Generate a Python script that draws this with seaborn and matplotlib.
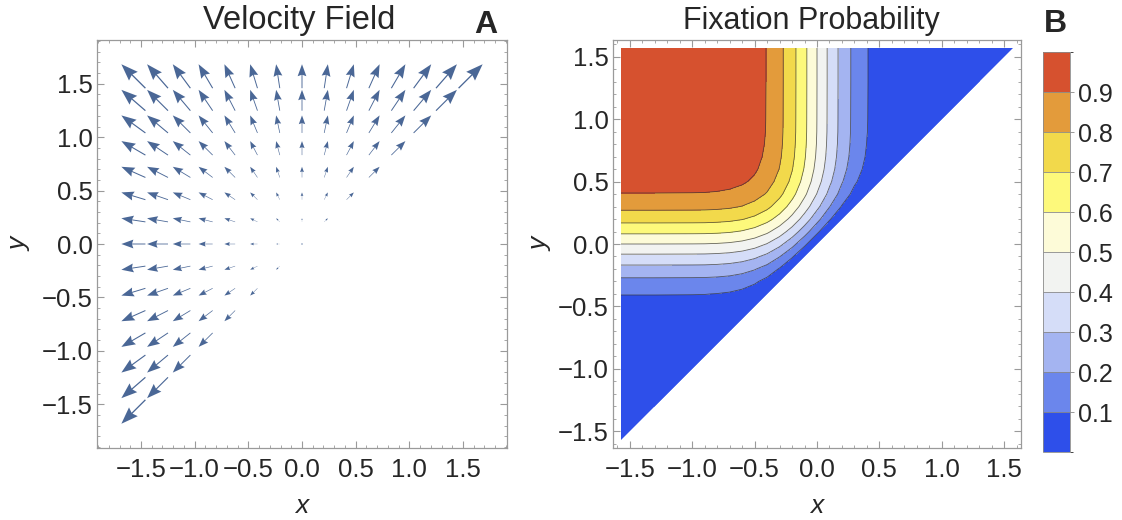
import numpy as np
import matplotlib
matplotlib.use('Agg')
import matplotlib.pyplot as plt
from matplotlib.patches import Polygon
from matplotlib.colors import ListedColormap, BoundaryNorm
from matplotlib.cm import ScalarMappable
from matplotlib.ticker import MultipleLocator
import seaborn as sns

# ---- panel A: velocity field --------------------------------------------
# arrow grid positions (15 points from -pi/2 to pi/2), only points with y >= x carry arrows
grid_pts = [-1.571, -1.346, -1.122, -0.898, -0.673, -0.449, -0.224, 0.0,
            0.224, 0.449, 0.673, 0.898, 1.122, 1.346, 1.571]
# drawn arrow components (data units):
# horizontal part depends on the column, vertical part on the row
arrow_dx = [-0.224, -0.195, -0.164, -0.131, -0.100, -0.068, -0.034, 0.0,
            0.034, 0.068, 0.100, 0.131, 0.164, 0.195, 0.224]
arrow_dy = [-0.224, -0.195, -0.164, -0.131, -0.100, -0.068, -0.034, 0.0,
            0.034, 0.068, 0.100, 0.131, 0.164, 0.195, 0.224]

# ---- panel B: fixation probability --------------------------------------
# probability read along the left edge (x = -pi/2); the top edge reads as the mirror image
prob_pos = [-1.571, -1.3, -1.0, -0.9, -0.8, -0.7, -0.6, -0.5, -0.4, -0.3, -0.2, -0.1, 0.0,
            0.1, 0.2, 0.3, 0.4, 0.5, 0.6, 0.7, 0.8, 0.9, 1.0, 1.3, 1.571]
prob_edge = [0.0, 0.0, 0.001, 0.002, 0.006, 0.014, 0.030, 0.058, 0.104, 0.173, 0.265, 0.377, 0.5,
             0.623, 0.735, 0.827, 0.896, 0.942, 0.970, 0.986, 0.994, 0.998, 0.999, 1.0, 1.0]
levels = [0.0, 0.1, 0.2, 0.3, 0.4, 0.5, 0.6, 0.7, 0.8, 0.9, 1.0]
level_colors = ['#2e4fea', '#6b86ec', '#a4b4f1', '#d5ddf8', '#f2f3f1',
                '#fdfbd8', '#fdf97b', '#f2d94b', '#e39b3b', '#d6512f']

arrow_color = '#4a6796'
frame_color = '#9a9a9a'

sns.set_style('ticks')
plt.rcParams['font.family'] = ['Liberation Sans', 'DejaVu Sans']

fig = plt.figure(figsize=(11.22, 5.2), dpi=100)
ax1 = fig.add_axes([97 / 1122, 1 - 448 / 520, 410 / 1122, 408 / 520])
ax2 = fig.add_axes([613 / 1122, 1 - 448 / 520, 408 / 1122, 408 / 520])
cax = fig.add_axes([1043 / 1122, 1 - 452 / 520, 27 / 1122, 400 / 520])

# velocity field (heads scale with arrow length, as in the original)
X, Y = np.meshgrid(grid_pts, grid_pts)
U, V = np.meshgrid(arrow_dx, arrow_dy)
keep = Y >= X - 1e-9
ax1.quiver(X[keep], Y[keep], U[keep], V[keep], angles='xy', scale_units='xy', scale=1,
           pivot='mid', color=arrow_color, width=0.0035, headwidth=9.5, headlength=13,
           headaxislength=11.5, minshaft=2.0)
ax1.set_xlim(-1.91, 1.91)
ax1.set_ylim(-1.91, 1.91)

# fixation probability contours (value = edge profile at y minus edge profile at x)
pe = np.array(prob_edge)
Z = pe[:, None] - pe[None, :]
cmap = ListedColormap(level_colors)
cmap.set_under(level_colors[0])
norm = BoundaryNorm(levels, cmap.N)
tri = Polygon([(-1.571, -1.571), (-1.571, 1.571), (1.571, 1.571)], closed=True,
              transform=ax2.transData, facecolor='none', edgecolor='none')
ax2.add_patch(tri)
cf = ax2.contourf(prob_pos, prob_pos, Z, levels=levels, cmap=cmap, norm=norm, extend='min')
cf.set_clip_path(tri)
cl = ax2.contour(prob_pos, prob_pos, Z, levels=levels[1:-1], colors='#333333',
                 linewidths=0.6, alpha=0.75)
cl.set_clip_path(tri)
ax2.set_xlim(-1.635, 1.635)
ax2.set_ylim(-1.635, 1.635)

for ax in (ax1, ax2):
    for axis in (ax.xaxis, ax.yaxis):
        axis.set_major_locator(MultipleLocator(0.5))
        axis.set_minor_locator(MultipleLocator(0.1))
    ax.tick_params(which='both', direction='in', top=True, right=True, color=frame_color,
                   labelsize=18.5)
    ax.tick_params(axis='x', pad=7)
    ax.tick_params(axis='y', pad=3)
    ax.tick_params(which='major', length=5, width=0.8)
    ax.tick_params(which='minor', length=2.5, width=0.6)
    for s in ax.spines.values():
        s.set_color(frame_color)
        s.set_linewidth(0.9)
    ax.set_xlabel('x', fontsize=19, style='italic', labelpad=9)
    ax.set_ylabel('y', fontsize=19, style='italic')
ax1.yaxis.set_label_coords(-0.159, 0.5)
ax2.yaxis.set_label_coords(-0.149, 0.5)

# colour bar legend
cb = fig.colorbar(ScalarMappable(norm=norm, cmap=cmap), cax=cax, ticks=levels[1:-1],
                  drawedges=True)
cb.dividers.set_color('#8a8a8a')
cb.dividers.set_linewidth(0.6)
cb.outline.set_edgecolor('#8a8a8a')
cb.outline.set_linewidth(0.6)
cax.tick_params(labelsize=18, length=3, width=0.6, color='#8a8a8a', direction='out', pad=3)

fig.text(299 / 1122, 1 - 29 / 520, 'Velocity Field', fontsize=23.5, ha='center', va='baseline')
fig.text(811 / 1122, 1 - 29 / 520, 'Fixation Probability', fontsize=22, ha='center', va='baseline')
fig.text(486 / 1122, 1 - 33 / 520, 'A', fontsize=23, fontweight='bold', ha='center', va='baseline')
fig.text(1055 / 1122, 1 - 32 / 520, 'B', fontsize=23, fontweight='bold', ha='center', va='baseline')

fig.savefig('out.png', dpi=100)
